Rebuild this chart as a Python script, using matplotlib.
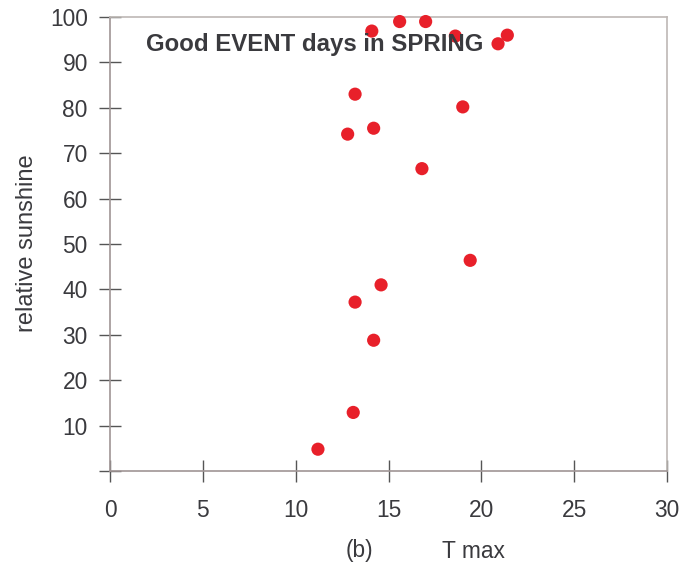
import matplotlib.pyplot as plt

plt.rcParams['font.family'] = ['Liberation Sans', 'DejaVu Sans']

# T max vs relative sunshine, good event days in spring
t_max = [14.1, 15.6, 17.0, 18.6, 20.9, 21.4, 13.2, 19.0, 12.8, 14.2,
         16.8, 19.4, 14.6, 13.2, 14.2, 13.1, 11.2]
sunshine = [96.9, 99.0, 99.0, 95.8, 94.1, 96.0, 83.0, 80.2, 74.2, 75.5,
            66.6, 46.4, 41.0, 37.2, 28.8, 12.9, 4.8]
x_ticks = [0, 5, 10, 15, 20, 25, 30]
y_ticks = [0, 10, 20, 30, 40, 50, 60, 70, 80, 90, 100]
y_labels = [''] + [str(v) for v in y_ticks[1:]]

txt = '#3a3a3e'
fig = plt.figure(figsize=(6.87, 5.64), dpi=100)
ax = fig.add_axes([110 / 687, 1 - 471 / 564, 557 / 687, 454 / 564])

ax.scatter(t_max, sunshine, s=90, color='#e8202a', edgecolors='none',
           zorder=3, clip_on=False)

ax.set_xlim(0, 30)
ax.set_ylim(0, 100)
ax.set_xticks(x_ticks)
ax.set_yticks(y_ticks, labels=y_labels)
ax.tick_params(direction='inout', length=16, width=1, color='#555555',
               labelsize=16.4, labelcolor=txt)
ax.tick_params(axis='x', pad=12)
ax.tick_params(axis='y', pad=8)
for side in ['left', 'bottom']:
    ax.spines[side].set_color('#a09595')
for side in ['top', 'right']:
    ax.spines[side].set_color('#bdb8b5')
for sp in ax.spines.values():
    sp.set_linewidth(1.2)

fig.text(27 / 687, 1 - 243 / 564, 'relative sunshine', rotation=90, fontsize=17,
         color=txt, ha='center', va='center')
fig.text(146 / 687, 1 - 45 / 564, 'Good EVENT days in SPRING',
         fontsize=17.3, fontweight='bold', color=txt, va='center', ha='left')
fig.text(359 / 687, 1 - 551 / 564, '(b)', fontsize=16.4, color=txt, ha='center', va='center')
fig.text(473 / 687, 1 - 551 / 564, 'T max', fontsize=16.4, color=txt, ha='center', va='center')

fig.savefig('out.png', dpi=100)
